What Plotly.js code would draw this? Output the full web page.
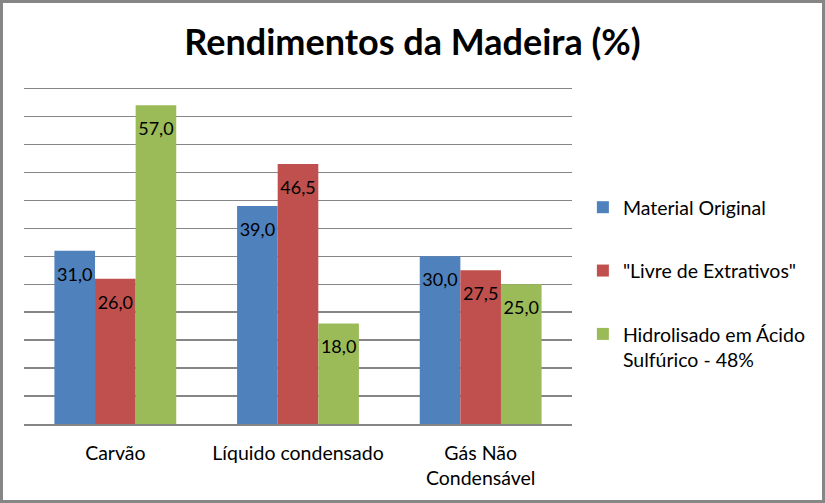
<!DOCTYPE html>
<html>
<head>
<meta charset="utf-8">
<script src="https://cdn.plot.ly/plotly-3.0.1.min.js"></script>
<style>
html,body{margin:0;padding:0;background:#fff;}
#wrap{width:825px;height:503px;box-sizing:border-box;border:3px solid #868686;background:#fff;}
#chart{width:819px;height:497px;}
</style>
</head>
<body>
<div id="wrap"><div id="chart"></div></div>
<script>
const categories = ["Carvão", "Líquido condensado", "Gás Não<br>Condensável"];
const seriesNames = ["Material Original", "\"Livre de Extrativos\"", "Hidrolisado em Ácido<br>Sulfúrico - 48%"];
const materialOriginal = [31.0, 39.0, 30.0];
const livreExtrativos = [26.0, 46.5, 27.5];
const hidrolisado = [57.0, 18.0, 25.0];
const seriesValues = [materialOriginal, livreExtrativos, hidrolisado];
const colors = ["#4F81BD", "#C0504D", "#9BBB59"];
const titleText = "Rendimentos da Madeira (%)";

const FONT = "Lato, 'Open Sans', sans-serif";

const fmt = v => v.toFixed(1).replace(".", ",");

const traces = seriesValues.map((vals, i) => ({
  type: "bar",
  name: seriesNames[i],
  x: categories,
  y: vals,
  marker: {color: colors[i]},
  text: vals.map(fmt),
  textposition: "inside",
  insidetextanchor: "end",
  textangle: 0,
  constraintext: "none",
  textfont: {family: FONT, size: 18, color: "#000"},
  legendgroup: "g" + i,
  hoverinfo: "none"
}));

const layout = {
  width: 819,
  height: 497,
  margin: {l: 21, r: 249, t: 80, b: 76},
  paper_bgcolor: "#fff",
  plot_bgcolor: "#fff",
  barmode: "group",
  bargap: 0.333,
  bargroupgap: 0,
  showlegend: true,
  font: {family: FONT, size: 19.5, color: "#000"},
  title: {
    text: "<b>" + titleText + "</b>",
    font: {family: FONT, size: 36, color: "#000"},
    x: 0.5, xanchor: "center",
    y: 0.92, yanchor: "middle"
  },
  xaxis: {
    type: "category",
    showline: true, linecolor: "#868686", linewidth: 1.5,
    ticks: "", showgrid: false,
    tickfont: {family: FONT, size: 19.5, color: "#000"},
    ticklabelstandoff: 11
  },
  yaxis: {
    range: [0, 61], dtick: 5, tick0: 0,
    showgrid: true, gridcolor: "#868686", gridwidth: 1.5,
    showticklabels: false, ticks: "", zeroline: false, showline: false
  },
  legend: {
    x: 1.018, xanchor: "left",
    y: 0.692, yanchor: "top",
    tracegroupgap: 35,
    valign: "top",
    font: {family: FONT, size: 19.5, color: "#000"},
    bgcolor: "rgba(0,0,0,0)"
  }
};

Plotly.newPlot("chart", traces, layout, {displayModeBar: false, staticPlot: true}).then(gd => {
  // Excel places "inside end" labels a little further below the bar top
  gd.querySelectorAll(".bars .point text").forEach(t => {
    const tr = t.getAttribute("transform") || "";
    t.setAttribute("transform", "translate(0,9) " + tr);
  });
});
</script>
</body>
</html>
